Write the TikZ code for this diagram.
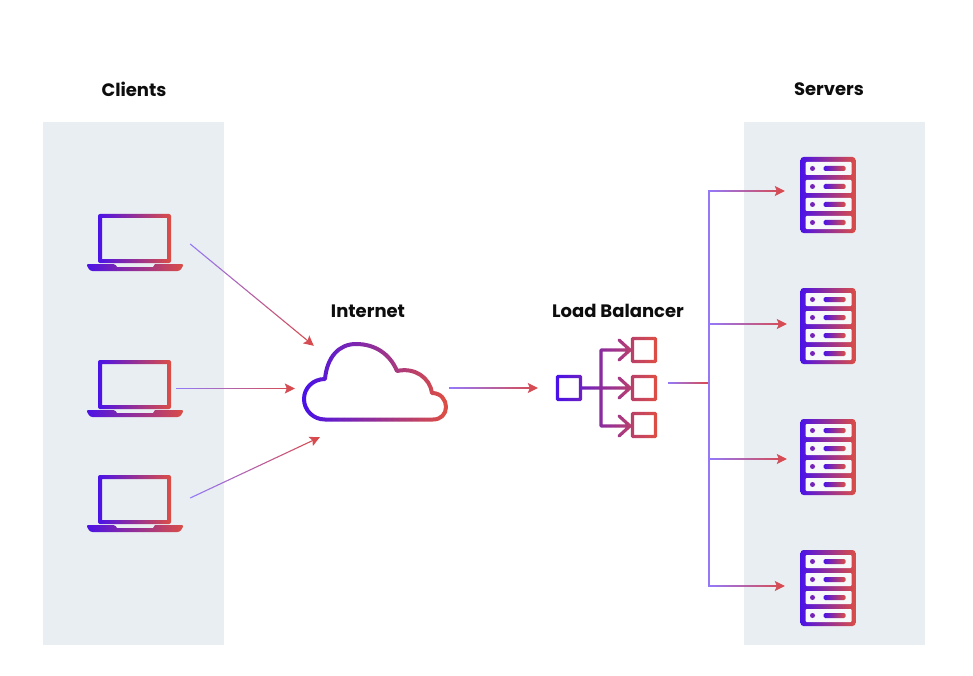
\documentclass[tikz,border=0pt]{standalone}
\usepackage{fontspec}
\setmainfont{Poppins}
\usetikzlibrary{arrows.meta, calc}
\definecolor{panelGrey}{HTML}{E9EEF3}
\definecolor{slotWhite}{HTML}{F6F8FA}
\definecolor{iconBlue}{HTML}{4A12E8}
\definecolor{iconRed}{HTML}{DC4E45}
\definecolor{linkViolet}{HTML}{9478F7}
\definecolor{linkRed}{HTML}{D94A4C}
\newdimen\sliceXa
\newdimen\sliceXb

% stroke a path in vertical slices, the colour running from one end to the other
\newcommand{\gradpath}[6]{%
  \foreach \i in {0,...,23}{%
    \pgfmathtruncatemacro\pct{100*\i/23}
    \coordinate (sliceL) at ($(#1)!{\i/24}!(#2)$);
    \coordinate (sliceR) at ($(#1)!{(\i+1)/24}!(#2)$);
    \pgfextractx{\sliceXa}{\pgfpointanchor{sliceL}{center}}
    \pgfextractx{\sliceXb}{\pgfpointanchor{sliceR}{center}}
    \pgfmathsetmacro\lx{\i==0 ? round(\sliceXa)-30 : round(\sliceXa)}
    \pgfmathsetmacro\rx{\i==23 ? round(\sliceXb)+30 : round(\sliceXb)}
    \begin{scope}
      \clip (\lx,0) rectangle (\rx,676);
      \draw[#5, color=#4!\pct!#3] #6;
    \end{scope}
  }%
}
\newcommand{\iconstroke}[4][]{\gradpath{#2}{#3}{iconBlue}{iconRed}{icon,#1}{#4}}
\newcommand{\linkstroke}[4][]{\gradpath{#2}{#3}{linkViolet}{linkRed}{link,#1}{#4}}

\begin{document}
\begin{tikzpicture}[
  x=1pt, y=-1pt,
  panel/.style={fill=panelGrey, draw=none, minimum width=181pt, minimum height=523pt, inner sep=0pt},
  heading/.style={font=\bfseries\fontsize{18}{21}\selectfont, text=black!95, inner sep=0pt},
  laptopbox/.style={minimum width=96pt, minimum height=57pt, inner sep=0pt},
  serverbox/.style={minimum width=55pt, minimum height=77pt, inner sep=0pt},
  cloudbox/.style={minimum width=146pt, minimum height=79pt, inner sep=0pt},
  balancerbox/.style={minimum width=101pt, minimum height=101pt, inner sep=0pt},
  icon/.style={line width=3.2pt, line join=round, line cap=round},
  cloudline/.style={line width=4pt},
  link/.style={line width=1.1pt},
  arr/.style={-{Stealth[length=10pt, width=10pt, inset=2pt]}},
  laptop/.pic={
    \shade[left color=iconBlue, right color=iconRed, even odd rule]
      [rounded corners=2pt] (-37,-28.5) rectangle (36,20.5)
      [sharp corners] (-33,-24.5) rectangle (32,16.5);
    \shade[left color=iconBlue, right color=iconRed, rounded corners=1.5pt]
      (-49,21.5) -- (-20,21.5) [sharp corners] -- (-18,24.5) -- (18,24.5) -- (20,21.5)
      [rounded corners=2.5pt] -- (49,21.5) -- (45,28.5) -- (-45,28.5) -- cycle;
  },
  server/.pic={
    \shade[left color=iconBlue, right color=iconRed, rounded corners=3pt] (-27,-38) rectangle (28,38);
    \foreach \row in {-33,-15,3,21}{
      \fill[slotWhite, rounded corners=1pt] (-22,\row) rectangle (24,\row+13);
      \fill[iconBlue!70!iconRed] (-15,\row+6.5) circle (2.5pt);
      \shade[left color=iconBlue, right color=iconRed, rounded corners=1.5pt] (-4,\row+4) rectangle (18,\row+9);
    }
  }
]
\useasboundingbox (0,0) rectangle (973,676);

\node[panel] (clientPanel) at (133.5,383.5) {};
\node[panel] (serverPanel) at (834,383.5) {};
\node[heading] (clientTitle) at (134,89) {Clients};
\node[heading] (serverTitle) at (829,89) {Servers};
\node[heading] (internetTitle) at (368,311) {Internet};
\node[heading] (balancerTitle) at (618,311) {Load Balancer};

\foreach \name/\ypos in {lapA/242.5, lapB/388.5, lapC/503.5}{
  \node[laptopbox] (\name) at (135,\ypos) {};
  \pic at (\name) {laptop};
}
\foreach \name/\ypos in {srvA/195, srvB/326, srvC/457, srvD/588}{
  \node[serverbox] (\name) at (827.5,\ypos) {};
  \pic at (\name) {server};
}
\node[cloudbox] (cloud) at (375,381.5) {};
\node[balancerbox] (balancer) at (606.5,387.5) {};
\coordinate (trunk) at (709,383);

\iconstroke[cloudline]{cloud.west}{cloud.east}{
  (325,419.5) .. controls (313,419.5) and (304,410) .. (304,399)
  .. controls (304,388) and (313,379) .. (325,379)
  .. controls (327,357) and (339,344) .. (356,344)
  .. controls (375,344) and (390,354) .. (397,371)
  .. controls (415,367) and (430,378) .. (432,393)
  .. controls (441,393) and (446,400) .. (446,407)
  .. controls (446,414) and (441,419.5) .. (433,419.5) -- cycle}

\iconstroke{balancer.west}{balancer.east}{
  (557.5,376.5) rectangle (580.5,399.5)
  (632.5,338.5) rectangle (655.5,361.5)
  (632.5,376.5) rectangle (655.5,399.5)
  (632.5,413.5) rectangle (655.5,436.5)
  (582,388) -- (630,388)
  (630,350) -- (601,350) -- (601,426) -- (630,426)
  (619,340) -- (630,350) -- (619,360)
  (619,378) -- (630,388) -- (619,398)
  (619,416) -- (630,426) -- (619,436)}

\linkstroke[arr]{[shift={(7,1.5)}]lapA.east}{[shift={(12,4)}]cloud.north west}{([shift={(7,1.5)}]lapA.east) -- ([shift={(12,4)}]cloud.north west)}
\linkstroke[arr]{[xshift=-7pt]lapB.east}{[shift={(-7,7)}]cloud.west}{([xshift=-7pt]lapB.east) -- ([shift={(-7,7)}]cloud.west)}
\linkstroke[arr]{[shift={(7,-5.5)}]lapC.east}{[shift={(18,16)}]cloud.south west}{([shift={(7,-5.5)}]lapC.east) -- ([shift={(18,16)}]cloud.south west)}
\linkstroke[arr]{[shift={(1,6.5)}]cloud.east}{[shift={(-18,.5)}]balancer.west}{([shift={(1,6.5)}]cloud.east) -- ([shift={(-18,.5)}]balancer.west)}
\linkstroke{[shift={(11,-4.5)}]balancer.east}{trunk}{([shift={(11,-4.5)}]balancer.east) -- (trunk)}
\linkstroke[arr]{trunk}{[shift={(-15,-4)}]srvA.west}{(trunk) |- ([shift={(-15,-4)}]srvA.west)}
\linkstroke[arr]{trunk}{[shift={(-13,-2)}]srvB.west}{(trunk) |- ([shift={(-13,-2)}]srvB.west)}
\linkstroke[arr]{trunk}{[shift={(-13,2)}]srvC.west}{(trunk) |- ([shift={(-13,2)}]srvC.west)}
\linkstroke[arr]{trunk}{[shift={(-15,-2)}]srvD.west}{(trunk) |- ([shift={(-15,-2)}]srvD.west)}
\end{tikzpicture}
\end{document}
